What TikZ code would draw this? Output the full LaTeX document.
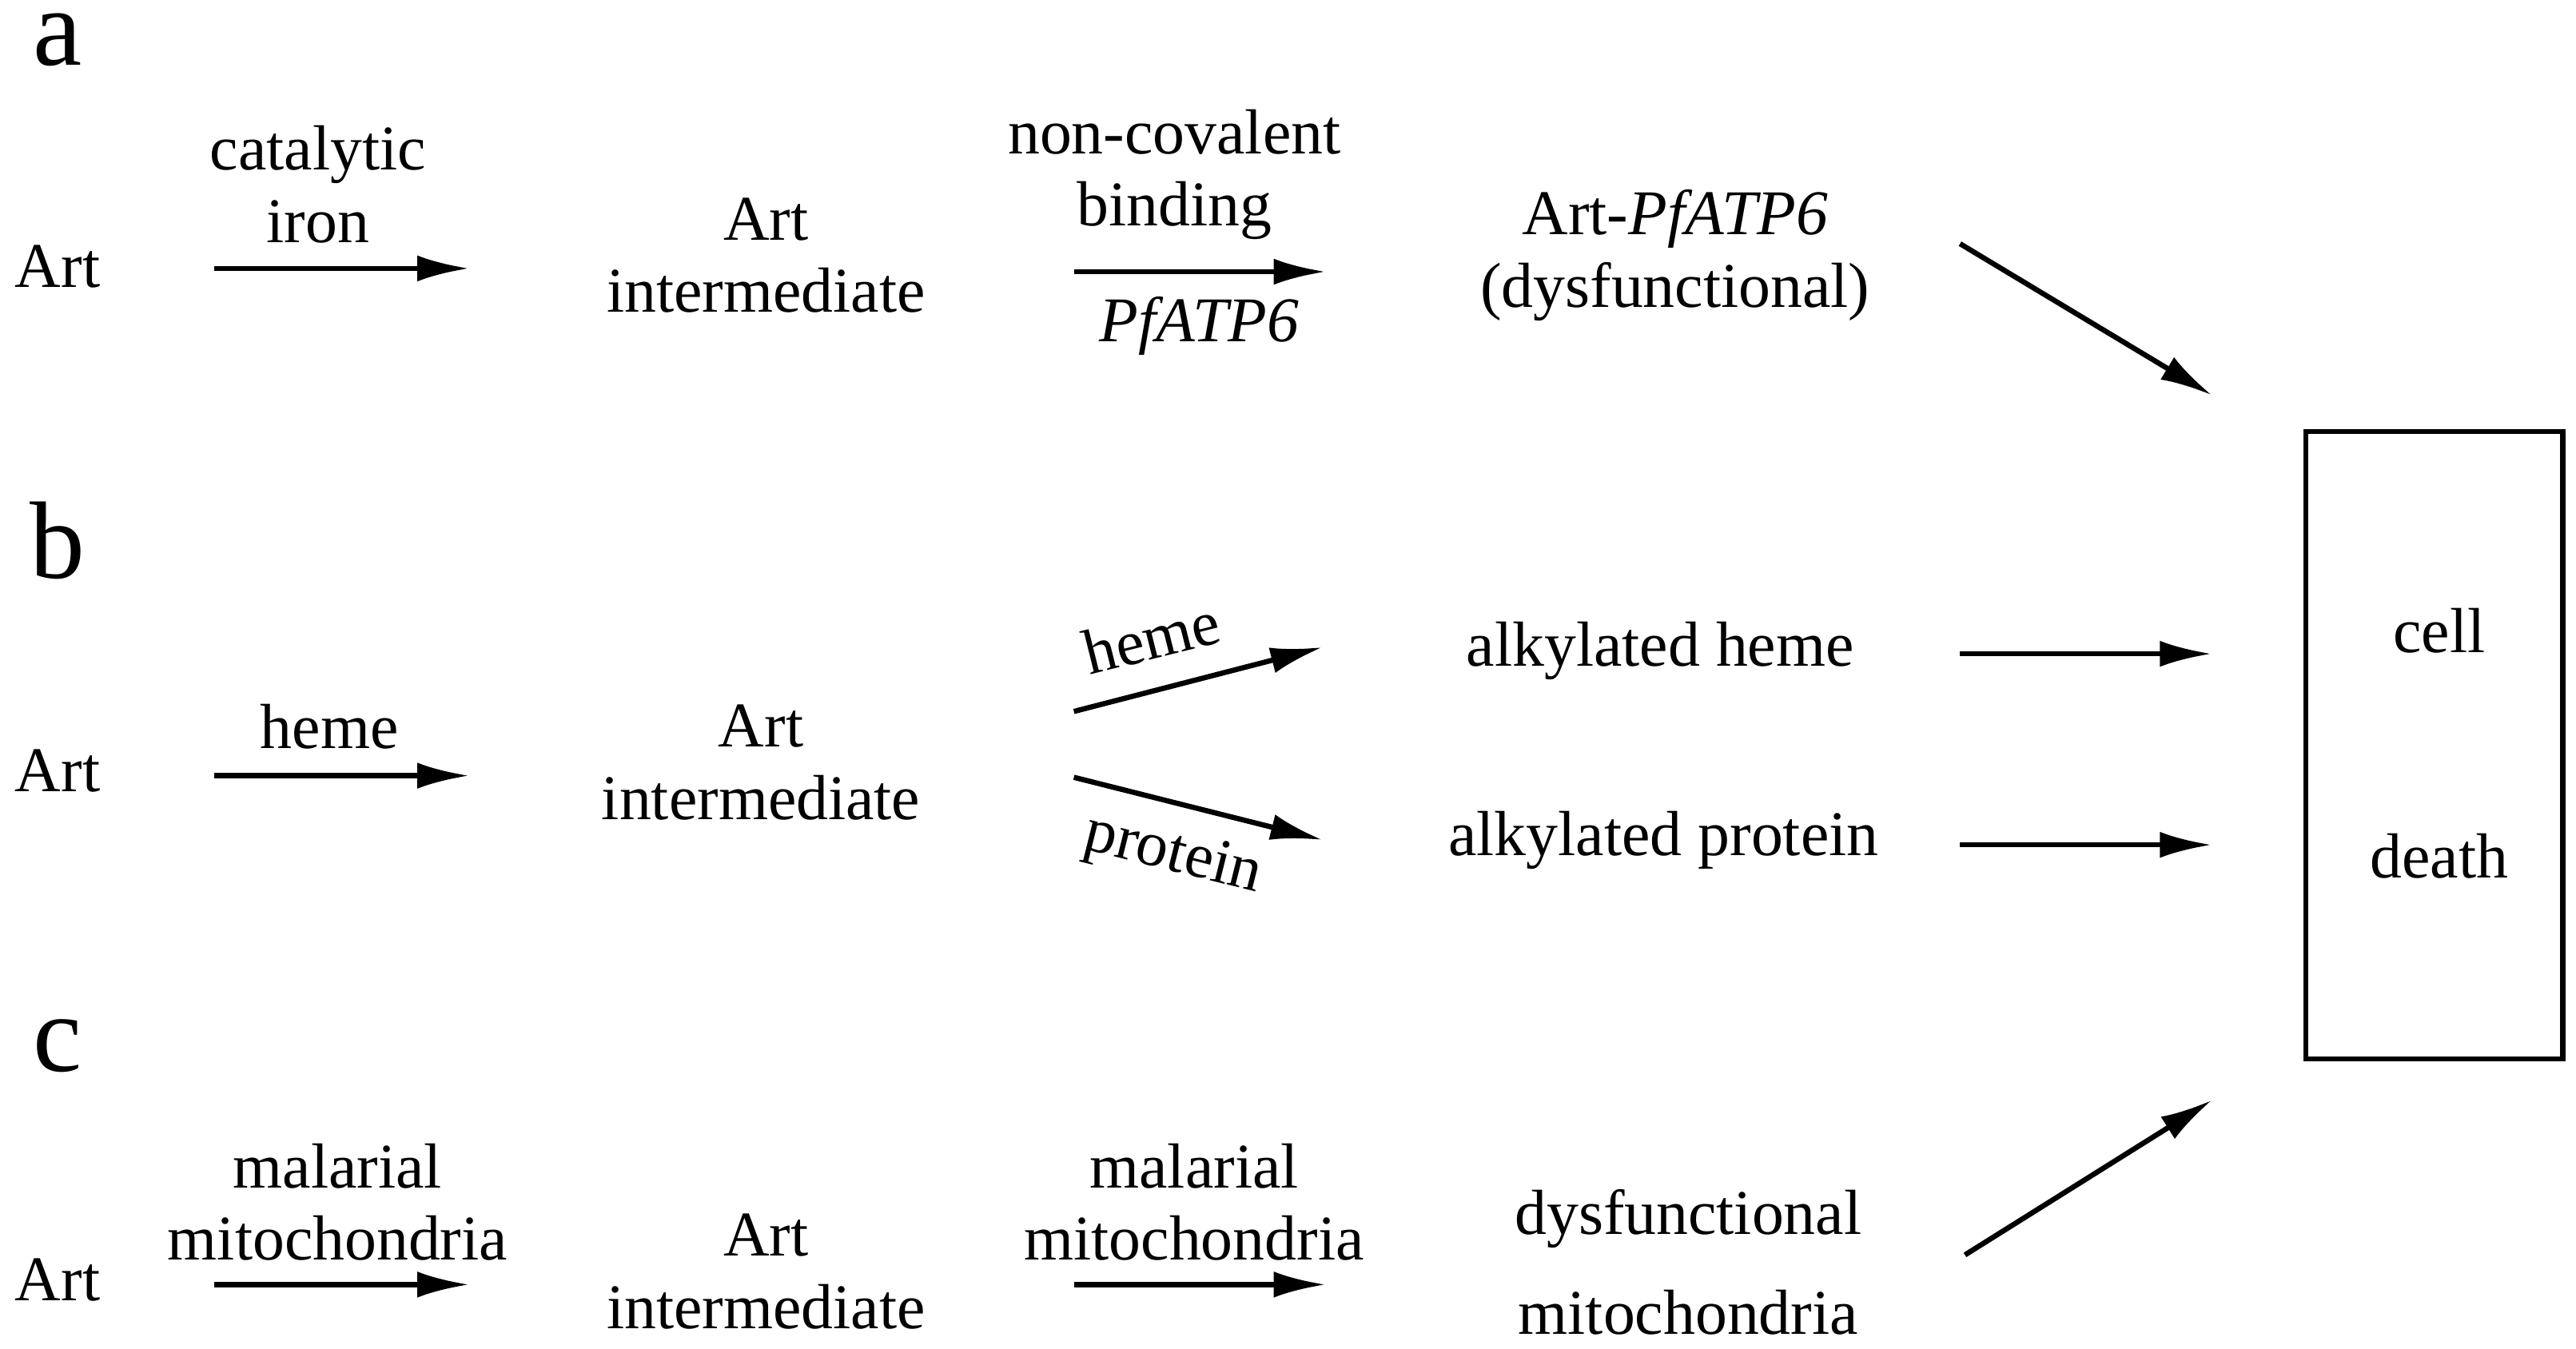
\documentclass[tikz,border=0pt]{standalone}
\usepackage{fontspec}
\setmainfont{Liberation Serif}
\usetikzlibrary{arrows.meta}
\begin{document}
\begin{tikzpicture}[x=0.01cm,y=-0.01cm,
  lbl/.style={font=\fontsize{11}{12.5}\selectfont,align=center,inner sep=0},
  big/.style={font=\fontsize{19}{20}\selectfont,inner sep=0},
  arr/.style={-{Latex[length=9pt,width=4.5pt]},line width=0.9pt}]
\useasboundingbox (0,0) rectangle (1564,819);
\node[big] (la) at (35,24) {a};
\node[big] (lb) at (35,328) {b};
\node[big] (lc) at (35,635) {c};
% row a
\node[lbl] (a0) at (35,162) {Art};
\coordinate (a1s) at (130,163); \coordinate (a1e) at (285,163);
\draw[arr] (a1s) -- (a1e);
\node[lbl] (a1l) at (193,112) {catalytic\\iron};
\node[lbl] (a2) at (465,155) {Art\\intermediate};
\coordinate (a2s) at (652,165); \coordinate (a2e) at (805,165);
\draw[arr] (a2s) -- (a2e);
\node[lbl] (a2l) at (713,106) {non-covalent\\binding};
\node[lbl] (a2b) at (728,198) {\itshape PfATP6};
\node[lbl] (a3) at (1017,155) {Art-\textit{PfATP6}\\(dysfunctional)};
\coordinate (a3s) at (1190,148); \coordinate (a3e) at (1343,240);
\draw[arr] (a3s) -- (a3e);
% box
\coordinate (bx1) at (1400,262); \coordinate (bx2) at (1556,643);
\draw[line width=0.9pt] (bx1) rectangle (bx2);
\node[lbl] (cell) at (1481,383) {cell};
\node[lbl] (death) at (1481,520) {death};
% row b
\node[lbl] (b0) at (35,468) {Art};
\coordinate (b1s) at (130,471); \coordinate (b1e) at (285,471);
\draw[arr] (b1s) -- (b1e);
\node[lbl] (b1l) at (200,441) {heme};
\node[lbl] (b2) at (462,463) {Art\\intermediate};
\coordinate (b2s) at (652,432); \coordinate (b2e) at (803,393);
\draw[arr] (b2s) -- (b2e);
\node[lbl,rotate=14] (b2l) at (699,387) {heme};
\coordinate (b3s) at (652,472); \coordinate (b3e) at (803,510);
\draw[arr] (b3s) -- (b3e);
\node[lbl,rotate=-14] (b3l) at (712,520) {protein};
\node[lbl] (b4) at (1008,395) {alkylated heme};
\node[lbl] (b5) at (1010,510) {alkylated protein};
\coordinate (b4s) at (1190,397); \coordinate (b4e) at (1343,397);
\draw[arr] (b4s) -- (b4e);
\coordinate (b5s) at (1190,513); \coordinate (b5e) at (1343,513);
\draw[arr] (b5s) -- (b5e);
% row c
\node[lbl] (c0) at (35,777) {Art};
\coordinate (c1s) at (130,780); \coordinate (c1e) at (285,780);
\draw[arr] (c1s) -- (c1e);
\node[lbl] (c1l) at (205,730) {malarial\\mitochondria};
\node[lbl] (c2) at (465,772) {Art\\intermediate};
\coordinate (c2s) at (652,780); \coordinate (c2e) at (805,780);
\draw[arr] (c2s) -- (c2e);
\node[lbl] (c2l) at (725,730) {malarial\\mitochondria};
\node[lbl] (c3a) at (1025,740) {dysfunctional};
\node[lbl] (c3b) at (1025,797) {mitochondria};
\coordinate (c3s) at (1193,762); \coordinate (c3e) at (1343,668);
\draw[arr] (c3s) -- (c3e);
\end{tikzpicture}
\end{document}
